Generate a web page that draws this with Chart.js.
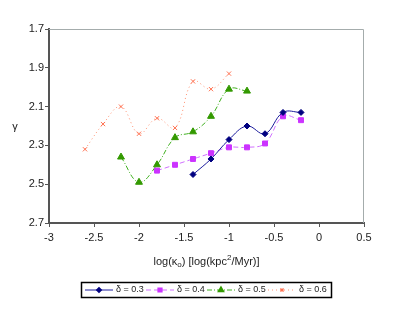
<!DOCTYPE html>
<html>
<head>
<meta charset="utf-8">
<script src="https://cdn.jsdelivr.net/npm/chart.js@4/dist/chart.umd.min.js"></script>
<style>
  html, body { margin: 0; padding: 0; background: #fff; }
  #wrap { width: 399px; height: 324px; position: relative; }
</style>
</head>
<body>
<div id="wrap"><canvas id="chart-gamma"></canvas></div>
<script>
// valores
const xTicks = [-3, -2.5, -2, -1.5, -1, -0.5, 0, 0.5];
const yTicks = [1.7, 1.9, 2.1, 2.3, 2.5, 2.7];

const labels = ['δ = 0.3', 'δ = 0.4', 'δ = 0.5', 'δ = 0.6'];

const kappa03 = [-1.4, -1.2, -1.0, -0.8, -0.6, -0.4, -0.2];
const gamma03 = [2.45, 2.37, 2.27, 2.20, 2.24, 2.13, 2.13];

const kappa04 = [-1.8, -1.6, -1.4, -1.2, -1.0, -0.8, -0.6, -0.4, -0.2];
const gamma04 = [2.43, 2.40, 2.37, 2.34, 2.31, 2.31, 2.29, 2.15, 2.17];

const kappa05 = [-2.2, -2.0, -1.8, -1.6, -1.4, -1.2, -1.0, -0.8];
const gamma05 = [2.36, 2.49, 2.40, 2.26, 2.23, 2.15, 2.01, 2.02];

const kappa06 = [-2.6, -2.4, -2.2, -2.0, -1.8, -1.6, -1.4, -1.2, -1.0];
const gamma06 = [2.32, 2.19, 2.10, 2.24, 2.16, 2.21, 1.97, 2.01, 1.93];

const FONT = '"Liberation Sans", Arial, sans-serif';

function pts(xs, ys) {
	return xs.map((x, i) => ({ x: x, y: ys[i] }));
}

// bordes del área, títulos y leyenda estilo Excel
const excelDecor = {
	id: 'excelDecor',
	beforeDatasetsDraw: function (chart) {
		const a = chart.chartArea;
		const ctx = chart.ctx;
		ctx.save();
		ctx.strokeStyle = '#a4acac';
		ctx.lineWidth = 1;
		ctx.beginPath();
		ctx.moveTo(a.left, a.top + 0.5);
		ctx.lineTo(a.right - 0.5, a.top + 0.5);
		ctx.lineTo(a.right - 0.5, a.bottom);
		ctx.stroke();
		ctx.restore();
	},
	afterDraw: function (chart) {
		const ctx = chart.ctx;
		const a = chart.chartArea;
		ctx.save();
		ctx.fillStyle = '#222';
		ctx.textBaseline = 'middle';

		// título eje y
		ctx.font = '11px ' + FONT;
		ctx.textAlign = 'center';
		ctx.fillText('γ', 15, 127);

		// título eje x con sub/superíndice
		const parts = [
			['log(κ', 11, 0], ['o', 8, 3], [') [log(kpc', 11, 0], ['2', 8, -4], ['/Myr)]', 11, 0]
		];
		let total = 0;
		parts.forEach(p => { ctx.font = p[1] + 'px ' + FONT; total += ctx.measureText(p[0]).width; });
		let x = (a.left + a.right) / 2 - total / 2;
		ctx.textAlign = 'left';
		parts.forEach(p => {
			ctx.font = p[1] + 'px ' + FONT;
			ctx.fillText(p[0], x, 262 + p[2]);
			x += ctx.measureText(p[0]).width;
		});

		// leyenda
		ctx.strokeStyle = '#000';
		ctx.lineWidth = 1.5;
		ctx.strokeRect(81.5, 282.5, 250, 15);
		const ly = 290;
		chart.data.datasets.forEach((ds, i) => {
			const x0 = 85 + i * 61;
			ctx.save();
			ctx.strokeStyle = ds.borderColor;
			ctx.lineWidth = ds.borderWidth;
			ctx.setLineDash(ds.borderDash || []);
			ctx.beginPath();
			ctx.moveTo(x0, ly);
			ctx.lineTo(x0 + 28, ly);
			ctx.stroke();
			ctx.restore();
			ctx.save();
			ctx.fillStyle = ds.pointBackgroundColor;
			ctx.strokeStyle = ds.pointBorderColor;
			Chart.helpers.drawPoint(ctx, {
				pointStyle: ds.pointStyle,
				radius: ds.pointRadius * 0.75,
				borderWidth: 1,
				rotation: 0
			}, x0 + 14, ly);
			ctx.restore();
			ctx.fillStyle = '#222';
			ctx.font = '9px ' + FONT;
			ctx.textAlign = 'left';
			ctx.fillText(ds.label, x0 + 31, ly);
		});
		ctx.restore();
	}
};

const datasets = [
	{
		label: labels[0],
		data: pts(kappa03, gamma03),
		borderColor: '#1c1c9c',
		backgroundColor: '#000080',
		borderWidth: 1,
		pointStyle: 'rectRot',
		pointRadius: 3,
		pointBorderColor: '#000080',
		pointBackgroundColor: '#000080'
	},
	{
		label: labels[1],
		data: pts(kappa04, gamma04),
		borderColor: '#d070ff',
		backgroundColor: '#cc33ff',
		borderWidth: 1,
		borderDash: [5, 3],
		pointStyle: 'rect',
		pointRadius: 3.5,
		pointBorderColor: '#cc33ff',
		pointBackgroundColor: '#cc33ff'
	},
	{
		label: labels[2],
		data: pts(kappa05, gamma05),
		borderColor: '#40b020',
		backgroundColor: '#339900',
		borderWidth: 1,
		borderDash: [5, 2, 1, 2],
		pointStyle: 'triangle',
		pointRadius: 4,
		pointBorderColor: '#339900',
		pointBackgroundColor: '#339900'
	},
	{
		label: labels[3],
		data: pts(kappa06, gamma06),
		borderColor: '#ff9070',
		backgroundColor: '#ff7050',
		borderWidth: 1,
		borderDash: [1, 3],
		pointStyle: 'crossRot',
		pointRadius: 3,
		pointBorderColor: '#ff7050',
		pointBackgroundColor: '#ff7050'
	}
];

new Chart(document.getElementById('chart-gamma'), {
	type: 'line',
	data: { datasets: datasets },
	plugins: [excelDecor],
	options: {
		responsive: true,
		maintainAspectRatio: false,
		animation: false,
		layout: { padding: { top: 29, right: 35, bottom: 0, left: 0 } },
		elements: { line: { tension: 0.4, fill: false } },
		plugins: {
			legend: { display: false },
			tooltip: { enabled: false }
		},
		scales: {
			x: {
				type: 'linear',
				min: -3,
				max: 0.5,
				afterFit: s => { s.height = 101; },
				afterBuildTicks: s => { s.ticks = xTicks.map(v => ({ value: v })); },
				border: { display: true, color: '#555', width: 2 },
				grid: { drawOnChartArea: false, drawTicks: true, tickLength: 4, color: '#555' },
				ticks: {
					padding: 4,
					maxRotation: 0,
					color: '#222',
					font: { family: FONT, size: 11 },
					callback: v => String(v)
				}
			},
			y: {
				type: 'linear',
				reverse: true,
				min: 1.7,
				max: 2.7,
				afterFit: s => { s.width = 49; },
				afterBuildTicks: s => { s.ticks = yTicks.map(v => ({ value: v })); },
				border: { display: true, color: '#555', width: 2 },
				grid: { drawOnChartArea: false, drawTicks: true, tickLength: 4, color: '#555' },
				ticks: {
					padding: 1,
					color: '#222',
					font: { family: FONT, size: 11 },
					callback: v => Number(v).toFixed(1)
				}
			}
		}
	}
});
</script>
</body>
</html>
